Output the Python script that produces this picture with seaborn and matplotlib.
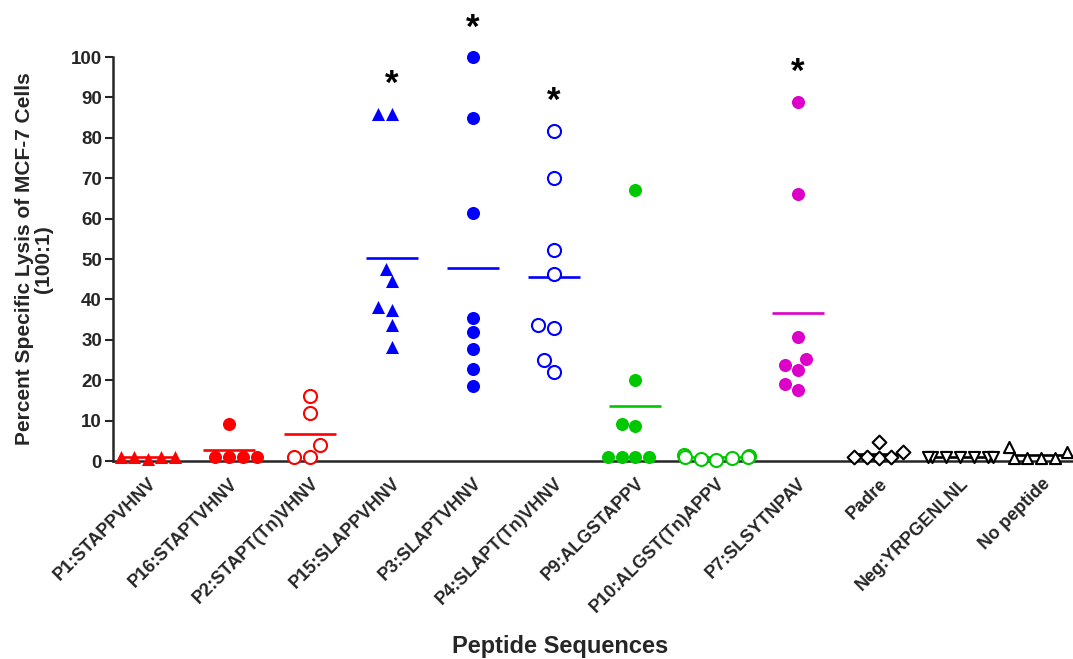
import numpy as np
import pandas as pd
import matplotlib
matplotlib.use("Agg")
import matplotlib.pyplot as plt
import seaborn as sns

categories = ["P1:STAPPVHNV", "P16:STAPTVHNV", "P2:STAPT(Tn)VHNV", "P15:SLAPPVHNV",
              "P3:SLAPTVHNV", "P4:SLAPT(Tn)VHNV", "P9:ALGSTAPPV", "P10:ALGST(Tn)APPV",
              "P7:SLSYTNPAV", "Padre", "Neg:YRPGENLNL", "No peptide"]

p1 = [1.0, 1.0, 0.5, 1.0, 1.0]
p16 = [1.0, 1.0, 1.0, 1.0, 9.1]
p2 = [16.2, 11.8, 4.0, 1.0, 1.0]
p15 = [86.0, 86.0, 47.5, 44.5, 38.2, 37.4, 33.6, 28.1]
p3 = [100.0, 85.0, 61.3, 35.3, 31.9, 27.8, 22.8, 18.6]
p4 = [81.6, 70.1, 52.2, 46.4, 33.6, 32.9, 25.0, 22.1]
p9 = [67.0, 20.0, 9.2, 8.7, 1.0, 1.0, 1.0, 1.0]
p10 = [0.8, 1.2, 0.2, 0.6, 1.0, 1.6, 1.0]
p7 = [88.8, 66.0, 30.8, 25.2, 23.8, 22.6, 19.0, 17.6]
padre = [0.7, 2.2, 1.0, 1.0, 1.0, 4.7]
neg = [1.0, 1.0, 1.0, 1.0, 1.0, 1.0, 1.0]
nopep = [0.7, 2.2, 0.7, 3.4, 0.7, 0.7]

values = [p1, p16, p2, p15, p3, p4, p9, p10, p7, padre, neg, nopep]
colors = ["#FF0000", "#FF0000", "#FF0000", "#0000FF", "#0000FF", "#0000FF",
          "#00C800", "#00C800", "#DC00C8", "#000000", "#000000", "#000000"]
markers = ["^", "o", "o", "^", "o", "o", "o", "o", "o", "D", "v", "^"]
filled = [True, True, False, True, True, False, True, False, True, False, False, False]

star_groups = ["P15:SLAPPVHNV", "P3:SLAPTVHNV", "P4:SLAPT(Tn)VHNV", "P7:SLSYTNPAV"]
star_levels = [93.3, 107.0, 88.9, 96.1]

df = pd.DataFrame({
    "group": np.concatenate([[c] * len(v) for c, v in zip(categories, values)]),
    "value": np.concatenate(values),
})

sns.set_style("ticks")
plt.rcParams["font.family"] = ["Liberation Sans", "DejaVu Sans"]
plt.rcParams["font.weight"] = "bold"

fig = plt.figure(figsize=(10.73, 6.59), dpi=100)
ax = fig.add_axes([113 / 1073, 1 - 461 / 659, 960 / 1073, 404 / 659])

for cat, col, mk, fl in zip(categories, colors, markers, filled):
    sub = df[df["group"] == cat]
    if mk == "D":
        msize = 7.0
    elif col == "#000000":
        msize = 8.0
    else:
        msize = 9.4
    if fl:
        sns.swarmplot(data=sub, x="group", y="value", order=categories, marker=mk,
                      color=col, edgecolor=col, linewidth=0, size=msize, ax=ax,
                      warn_thresh=1.0)
    else:
        sns.swarmplot(data=sub, x="group", y="value", order=categories, marker=mk,
                      color="white", edgecolor=col, linewidth=1.5, size=msize, ax=ax,
                      warn_thresh=1.0)
    sns.pointplot(data=sub, x="group", y="value", order=categories, estimator="mean",
                  errorbar=None, color=col, markers="_", linestyles="none",
                  markersize=38, markeredgewidth=1.9, ax=ax)

for coll in ax.collections:
    coll.set_clip_on(False)
for ln in ax.lines:
    ln.set_clip_on(False)

for g, lvl in zip(star_groups, star_levels):
    ax.text(categories.index(g), lvl, "*", ha="center", va="center",
            fontsize=25, fontweight="bold", color="black", clip_on=False)

ax.set_xlim(-0.43, 11.39)
ax.set_ylim(0, 100)
ax.set_yticks(np.arange(0, 101, 10))
ax.set_xticks(range(len(categories)))
ax.set_xticklabels(categories, rotation=45, ha="right", va="top",
                   rotation_mode="anchor", fontsize=13, fontweight="bold")
ax.tick_params(axis="x", length=0, pad=10)
ax.tick_params(axis="y", length=6, width=1.5, labelsize=13.5, pad=2)
for lab in ax.get_yticklabels():
    lab.set_fontweight("bold")

sns.despine(ax=ax)
ax.spines["left"].set_linewidth(1.8)
ax.spines["bottom"].set_linewidth(1.8)

ax.set_xlabel("Peptide Sequences", fontsize=17, fontweight="bold")
ax.xaxis.set_label_coords(0.466, -0.43)
ax.set_ylabel("Percent Specific Lysis of MCF-7 Cells\n(100:1)", fontsize=15,
              fontweight="bold", linespacing=1.0)
ax.yaxis.set_label_coords(-0.063, 0.5)

fig.savefig("out.png", dpi=100)
